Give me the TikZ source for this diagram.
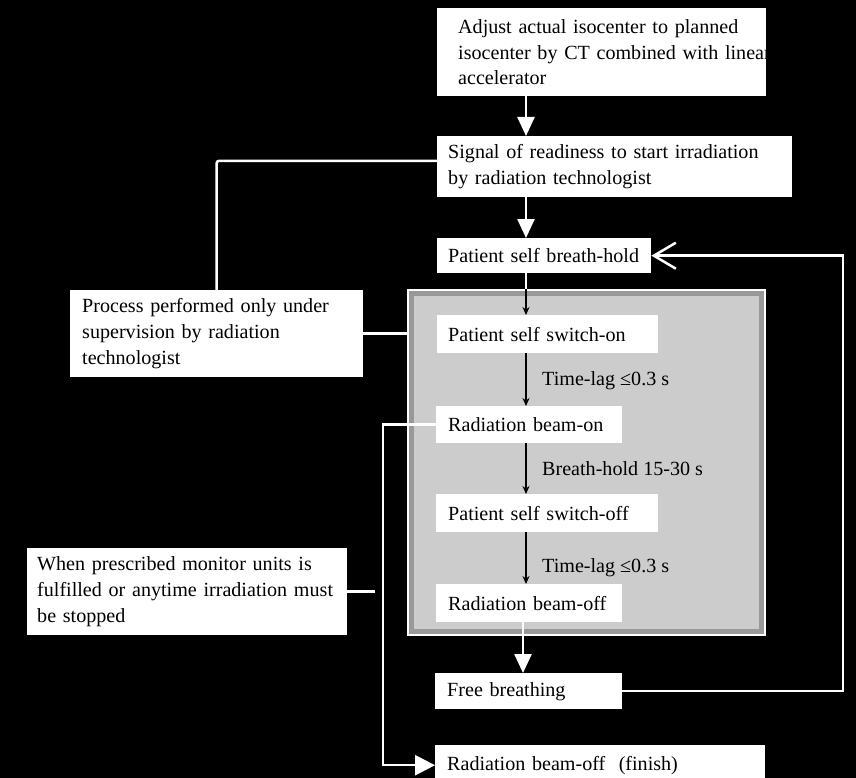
\documentclass[tikz,border=0pt]{standalone}
\usepackage{fontspec}
\setmainfont{Liberation Serif}
\usetikzlibrary{arrows.meta,calc}
\newcommand{\oneline}[1]{\mbox{#1}}
\begin{document}
\begin{tikzpicture}[x=1pt,y=-1pt,
  txt/.style={font=\fontsize{20.1}{25.8}\selectfont},
  box/.style={txt, fill=white, align=left, anchor=north west, inner xsep=11pt, inner ysep=0pt},
  wline/.style={draw=white, line width=2.5pt},
  warrow/.style={wline, -{Triangle[length=19pt,width=17pt]}},
  barrow/.style={draw=black, line width=1.1pt, -{Stealth[length=8pt,width=7pt]}},
  lbl/.style={txt, anchor=west, inner sep=1pt},
  regionbox/.style={fill=black!20, draw=white, line width=1.5pt, anchor=north west, inner sep=0pt}
]
\fill[black] (0,0) rectangle (856,778);
\useasboundingbox (0,0) rectangle (856,778);

% helper coordinates
\coordinate (spine) at (526,0);
\coordinate (spineb) at (523,0);
\coordinate (sy) at (0,161);
\coordinate (colx) at (383,0);
\coordinate (rx) at (843,0);
\coordinate (stubx) at (375,0);

% grey region
\node[regionbox, minimum width=357pt, minimum height=345pt] (region) at (407,289) {};
\draw[black!40, line width=5pt] ($(region.north west)+(4,4)$) rectangle ($(region.south east)+(-4,-4)$);

% boxes
\node[box, inner xsep=21pt, text width=287pt, minimum height=88pt] (top) at (437,8)
  {\oneline{Adjust actual isocenter to planned}\\ \oneline{isocenter by CT combined with linear}\\ \oneline{accelerator}};
\node[box, text width=333pt, minimum height=61pt] (sig) at (437,136)
  {\oneline{Signal of readiness to start irradiation}\\ \oneline{by radiation technologist}};
\node[box, text width=192pt, minimum height=35pt] (bh) at (437,238)
  {\oneline{Patient self breath-hold}};
\node[box, text width=199pt, minimum height=38pt] (son) at (437,315)
  {\oneline{Patient self switch-on}};
\node[box, inner xsep=12pt, text width=162pt, minimum height=37pt] (bon) at (436,406)
  {\oneline{Radiation beam-on}};
\node[box, inner xsep=12pt, text width=198pt, minimum height=38pt] (soff) at (436,494)
  {\oneline{Patient self switch-off}};
\node[box, inner xsep=12pt, text width=162pt, minimum height=38pt] (boff) at (436,584)
  {\oneline{Radiation beam-off}};
\node[box, inner xsep=12pt, text width=163pt, minimum height=36pt] (fb) at (435,673)
  {\oneline{Free breathing}};
\node[box, inner xsep=12pt, text width=306pt, minimum height=40pt] (fin) at (435,745)
  {\oneline{Radiation beam-off\ \ (finish)}};
\node[box, inner xsep=12pt, text width=269pt, minimum height=87pt] (proc) at (70,290)
  {\oneline{Process performed only under}\\ \oneline{supervision by radiation}\\ \oneline{technologist}};
\node[box, inner xsep=10pt, text width=300pt, minimum height=87pt] (when) at (27,548)
  {\oneline{When prescribed monitor units is}\\ \oneline{fulfilled or anytime irradiation must}\\ \oneline{be stopped}};

% labels
\node[lbl] (lag1) at (541,381) {Time-lag ≤0.3 s};
\node[lbl] (hold) at (541,469) {Breath-hold 15-30 s};
\node[lbl] (lag2) at (541,568) {Time-lag ≤0.3 s};

% connectors
\draw[warrow] (top.south -| spine) -- (sig.north -| spine);
\draw[warrow] (sig.south -| spine) -- (bh.north -| spine);
\draw[wline] (bh.south -| spine) -- (region.north -| spine);
\draw[barrow] (region.north -| spine) -- (son.north -| spine);
\draw[barrow] (son.south -| spine) -- (bon.north -| spine);
\draw[barrow] (bon.south -| spine) -- (soff.north -| spine);
\draw[barrow] (soff.south -| spine) -- (boff.north -| spine);
\draw[warrow] (boff.south -| spineb) -- (fb.north -| spineb);

\draw[wline, -{Straight Barb[length=22pt,width=26pt]}]
  (fb.east) -- (fb.east -| rx) |- (bh.east);
\draw[wline, rounded corners=2pt] (sig.west |- sy) -| (proc.north);
\draw[wline] (proc.east) -- (proc.east -| region.west);
\draw[wline, -{Triangle[length=20pt,width=20pt]}]
  (bon.west) -- (bon.west -| colx) |- (fin.west);
\coordinate (stub) at (when.east -| stubx);
\draw[wline] (when.east) -- (stub);
\end{tikzpicture}
\end{document}
